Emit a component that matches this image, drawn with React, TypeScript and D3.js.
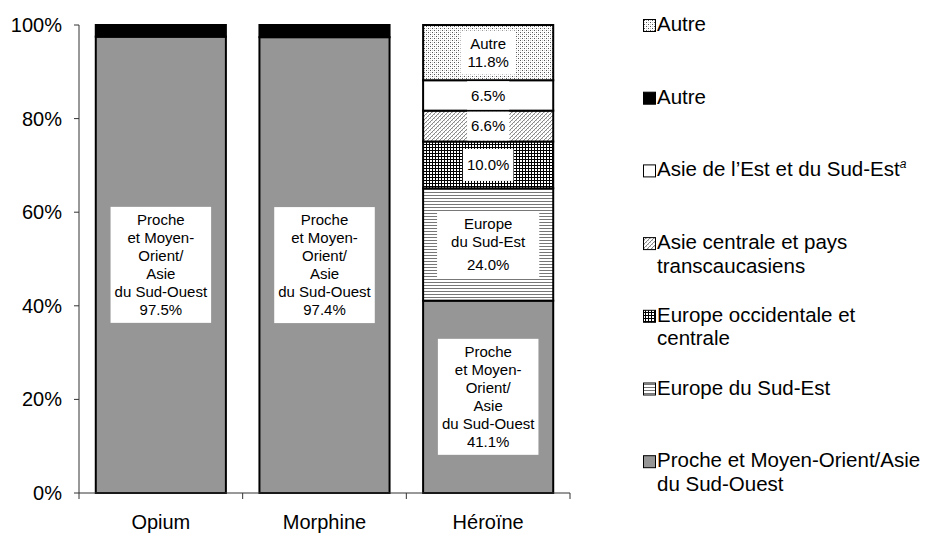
import React from "react";
import * as d3 from "d3";

const categories = ["Opium", "Morphine", "Héroïne"];

const seriesKeys = ["proche", "europeSE", "europeOcc", "asieCentrale", "asieEst", "autreHeroine", "autreOpiaces"];

const procheValues = [97.5, 97.4, 41.1];
const europeSEValues = [0, 0, 24.0];
const europeOccValues = [0, 0, 10.0];
const asieCentraleValues = [0, 0, 6.6];
const asieEstValues = [0, 0, 6.5];
const autreHeroineValues = [0, 0, 11.8];
const autreOpiacesValues = [2.5, 2.6, 0];

const yTicks = [0, 20, 40, 60, 80, 100];

const labelLines: Record<string, string[] | null> = {
  proche: ["Proche", "et Moyen-", "Orient/", "Asie", "du Sud-Ouest"],
  europeSE: ["Europe", "du Sud-Est"],
  europeOcc: [],
  asieCentrale: [],
  asieEst: [],
  autreHeroine: ["Autre"],
  autreOpiaces: null,
};

const legendItems = [
  { key: "autreHeroine", lines: ["Autre"] },
  { key: "autreOpiaces", lines: ["Autre"] },
  { key: "asieEst", lines: ["Asie de l’Est et du Sud-Est"], sup: "a" },
  { key: "asieCentrale", lines: ["Asie centrale et pays", "transcaucasiens"] },
  { key: "europeOcc", lines: ["Europe occidentale et", "centrale"] },
  { key: "europeSE", lines: ["Europe du Sud-Est"] },
  { key: "proche", lines: ["Proche et Moyen-Orient/Asie", "du Sud-Ouest"] },
];

const fills: Record<string, string> = {
  proche: "#969696",
  europeSE: "url(#pHoriz)",
  europeOcc: "url(#pGrid)",
  asieCentrale: "url(#pDiag)",
  asieEst: "#ffffff",
  autreHeroine: "url(#pDots)",
  autreOpiaces: "#000000",
};

// label box padding (style only)
const labelPad: Record<string, number> = { proche: 8, europeSE: 28, europeOcc: 8, asieCentrale: 8, asieEst: 8, autreHeroine: 14 };
const pctGap: Record<string, number> = { europeSE: 5 };

const FONT = "'Liberation Sans', Arial, sans-serif";

function measure(text: string, size: number) {
  if (typeof document === "undefined") return text.length * size * 0.5;
  const c = document.createElement("canvas").getContext("2d");
  if (!c) return text.length * size * 0.5;
  c.font = `${size}px ${FONT}`;
  return c.measureText(text).width;
}

export default function App() {
  const W = 926, H = 534;
  const x0 = 79, x1 = 570, y0 = 493, yTop = 25;
  const x = d3.scaleBand<string>().domain(categories).range([x0, x1]).paddingInner(0.205).paddingOuter(0.1025);
  const y = d3.scaleLinear().domain([0, 100]).range([y0, yTop]);

  const valuesByKey: Record<string, number[]> = {
    proche: procheValues,
    europeSE: europeSEValues,
    europeOcc: europeOccValues,
    asieCentrale: asieCentraleValues,
    asieEst: asieEstValues,
    autreHeroine: autreHeroineValues,
    autreOpiaces: autreOpiacesValues,
  };
  const table = categories.map((c, i) => {
    const row: any = { cat: c };
    seriesKeys.forEach((k) => (row[k] = valuesByKey[k][i]));
    return row;
  });
  const stacked = d3.stack<any>().keys(seriesKeys)(table);
  const fmt = d3.format(".1f");

  const lineH = 18;
  const labelSize = 15;
  const legendSize = 20.5;
  const legendBase0 = 31;
  const legendStep = 72.7;

  return (
    <svg width={W} height={H} style={{ position: "absolute", left: 0, top: 0, background: "#fff" }} fontFamily={FONT}>
      <defs>
        <pattern id="pDots" width="4" height="4" patternUnits="userSpaceOnUse">
          <rect width="4" height="4" fill="#fff" />
          <rect x="0" y="0" width="1" height="1" fill="#555" />
          <rect x="2" y="2" width="1" height="1" fill="#555" />
          <rect x="2" y="0" width="1" height="1" fill="#ccc" />
          <rect x="0" y="2" width="1" height="1" fill="#ccc" />
        </pattern>
        <pattern id="pDiag" width="4" height="4" patternUnits="userSpaceOnUse">
          <rect width="4" height="4" fill="#fff" />
          <rect x="3" y="0" width="1" height="1" fill="#888" />
          <rect x="2" y="1" width="1" height="1" fill="#888" />
          <rect x="1" y="2" width="1" height="1" fill="#888" />
          <rect x="0" y="3" width="1" height="1" fill="#888" />
          <rect x="0" y="0" width="1" height="1" fill="#ccc" />
          <rect x="2" y="2" width="1" height="1" fill="#ccc" />
        </pattern>
        <pattern id="pGrid" width="3" height="3" patternUnits="userSpaceOnUse">
          <rect width="3" height="3" fill="#fff" />
          <rect x="0" y="0" width="3" height="1" fill="#000" />
          <rect x="0" y="0" width="1" height="3" fill="#000" />
        </pattern>
        <pattern id="pHoriz" width="3" height="3" patternUnits="userSpaceOnUse">
          <rect width="3" height="3" fill="#fff" />
          <rect x="0" y="0" width="3" height="1" fill="#777" />
        </pattern>
      </defs>

      {/* y axis */}
      <line x1={x0} x2={x0} y1={yTop} y2={y0} stroke="#333" strokeWidth={1} />
      {yTicks.map((t) => (
        <g key={t}>
          <line x1={x0 - 5} x2={x0} y1={y(t)} y2={y(t)} stroke="#333" />
          <text x={62} y={y(t)} dy="0.35em" textAnchor="end" fontSize={20} fill="#000">
            {t}%
          </text>
        </g>
      ))}

      {/* bars */}
      {stacked.map((s) =>
        s.map((d, i) => {
          const v = d[1] - d[0];
          if (v <= 0) return null;
          const bx = x(categories[i])!;
          const bw = x.bandwidth();
          return (
            <rect
              key={s.key + i}
              x={bx}
              y={y(d[1])}
              width={bw}
              height={y(d[0]) - y(d[1])}
              fill={fills[s.key]}
              stroke="#000"
              strokeWidth={2}
            />
          );
        })
      )}

      {/* x axis */}
      <line x1={x0} x2={x1} y1={y0} y2={y0} stroke="#333" />
      {[...categories.map((c) => x(c)! - (x.step() * x.paddingInner()) / 2), x1].map((tx, i) => (
        <line key={i} x1={tx} x2={tx} y1={y0} y2={y0 + 6} stroke="#333" />
      ))}
      {categories.map((c) => (
        <text key={c} x={x(c)! + x.bandwidth() / 2} y={529} textAnchor="middle" fontSize={20} fill="#000">
          {c}
        </text>
      ))}

      {/* labels */}
      {stacked.map((s) =>
        s.map((d, i) => {
          const v = d[1] - d[0];
          const lines0 = labelLines[s.key];
          if (v <= 0 || lines0 === null) return null;
          const lines = [...lines0, fmt(v) + "%"];
          const gap = lines0.length > 0 ? pctGap[s.key] || 0 : 0;
          const cx = x(categories[i])! + x.bandwidth() / 2;
          const top = y(d[1]);
          const bot = y(d[0]);
          const cy = (top + bot) / 2;
          const tw = Math.max(...lines.map((l) => measure(l, labelSize)));
          const bw = tw + (labelPad[s.key] || 8);
          const bh = Math.max(lines.length * lineH + 8 + gap, 32);
          const by = cy - bh / 2;
          const bTop = Math.max(by, top + 1);
          const bBot = Math.min(by + bh, bot - 1);
          const startY = cy - ((lines.length - 1) * lineH + gap) / 2;
          return (
            <g key={"l" + s.key + i}>
              <rect x={cx - bw / 2} y={bTop} width={bw} height={bBot - bTop} fill="#fff" />
              {lines.map((l, j) => (
                <text
                  key={j}
                  x={cx}
                  y={startY + j * lineH + (j === lines.length - 1 ? gap : 0)}
                  dy="0.35em"
                  textAnchor="middle"
                  fontSize={labelSize}
                  fill="#000"
                >
                  {l}
                </text>
              ))}
            </g>
          );
        })
      )}

      {/* legend */}
      {legendItems.map((it, i) => {
        const base = legendBase0 + i * legendStep;
        return (
          <g key={i}>
            <rect x={643.5} y={base - 11.5} width={12} height={12} fill={fills[it.key]} stroke="#000" strokeWidth={1} />
            {it.lines.map((l, j) => (
              <text key={j} x={657} y={base + j * 23.5} fontSize={legendSize} fill="#000">
                {l}
                {it.sup && j === 0 ? (
                  <tspan dy={-8} fontSize={12} fontStyle="italic">
                    {it.sup}
                  </tspan>
                ) : null}
              </text>
            ))}
          </g>
        );
      })}
    </svg>
  );
}
